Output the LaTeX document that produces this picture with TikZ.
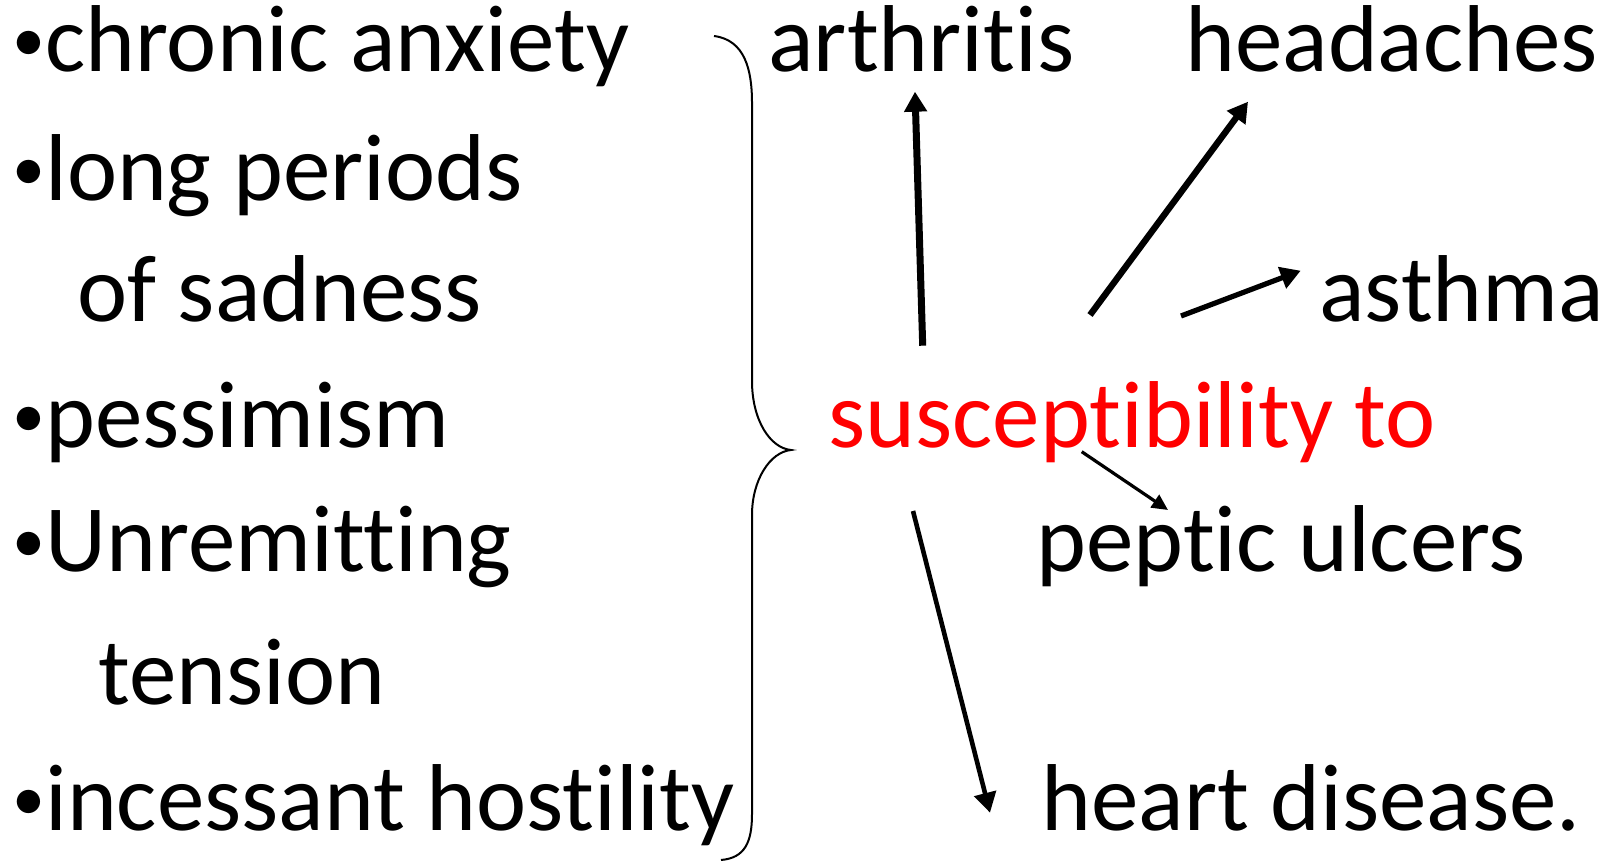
\documentclass[tikz,border=0pt]{standalone}
\usepackage{fontspec}
\setmainfont{Carlito}[Ligatures={NoCommon,NoContextual}]
\usepackage{tikz}
\usetikzlibrary{arrows.meta}
\definecolor{suscol}{RGB}{255,0,0}
\newcommand{\itembullet}{\raisebox{5pt}{\fontsize{33}{33}\selectfont•}}

\begin{document}
\begin{tikzpicture}[
    x=0.5pt, y=-0.5pt,
    %% ── Text styles ──
    item/.style={anchor=base west, inner sep=0pt,
        font=\fontsize{47.5}{56}\selectfont},
    effect/.style={item},
    focus/.style={item, text=suscol},
    %% ── Arrow styles ──
    link/.style={-{Triangle[length=10pt, width=11pt]}, line width=3pt},
    thinlink/.style={-{Triangle[length=8pt, width=7.5pt]}, line width=1.6pt},
    brace/.style={line width=1pt},
]
\useasboundingbox (0,0) rectangle (1616,865);

% ── Left column · causes ──
\node[item] (anxiety)   at (12, 72)  {\itembullet chronic anxiety};
\node[item] (periods)   at (12, 201) {\itembullet long periods};
\node[item] (sadness)   at (77, 322) {of sadness};
\node[item] (pessimism) at (12, 448) {\itembullet pessimism};
\node[item] (unremit)   at (12, 572) {\itembullet Unremitting};
\node[item] (tension)   at (98, 704) {tension};
\node[item] (hostility) at (12, 830) {\itembullet incessant hostility};

% ── Brace ──
\draw[brace] (714,36) .. controls (745,40) and (752,70) .. (752,103)
    -- (752,381) .. controls (752,420) and (770,448) .. (791,450)
    .. controls (770,452) and (752,480) .. (752,515)
    -- (752,814) .. controls (752,842) and (745,858) .. (721,860);

% ── Centre ──
\node[focus] (suscept) at (828, 448) {susceptibility to};

% ── Right side · illnesses ──
\node[effect] (arthritis) at (768, 72)   {arthritis};
\node[effect] (headaches) at (1185, 72)  {headaches};
\node[effect] (asthma)    at (1319, 322) {asthma};
\node[effect] (peptic)    at (1036, 572) {peptic ulcers};
\node[effect] (heart)     at (1041, 830) {heart disease.};

% ── Arrow ends ──
\coordinate (arthritis-from) at (922.7, 345.7);
\coordinate (arthritis-to)   at (915, 91.7);
\coordinate (headaches-from) at (1090, 315);
\coordinate (headaches-to)   at (1248, 101.7);
\coordinate (asthma-from)    at (1181, 316);
\coordinate (asthma-to)      at (1300.7, 270.7);
\coordinate (peptic-from)    at (1081.7, 451.7);
\coordinate (peptic-to)      at (1168, 510);
\coordinate (heart-from)     at (913, 511);
\coordinate (heart-to)       at (990, 812.7);

\draw[link, line width=3.5pt] (arthritis-from) -- (arthritis-to);
\draw[link, line width=3.2pt] (headaches-from) -- (headaches-to);
\draw[link, line width=2.6pt] (asthma-from)    -- (asthma-to);
\draw[thinlink]               (peptic-from)    -- (peptic-to);
\draw[link, line width=2.3pt] (heart-from)     -- (heart-to);

\end{tikzpicture}
\end{document}
